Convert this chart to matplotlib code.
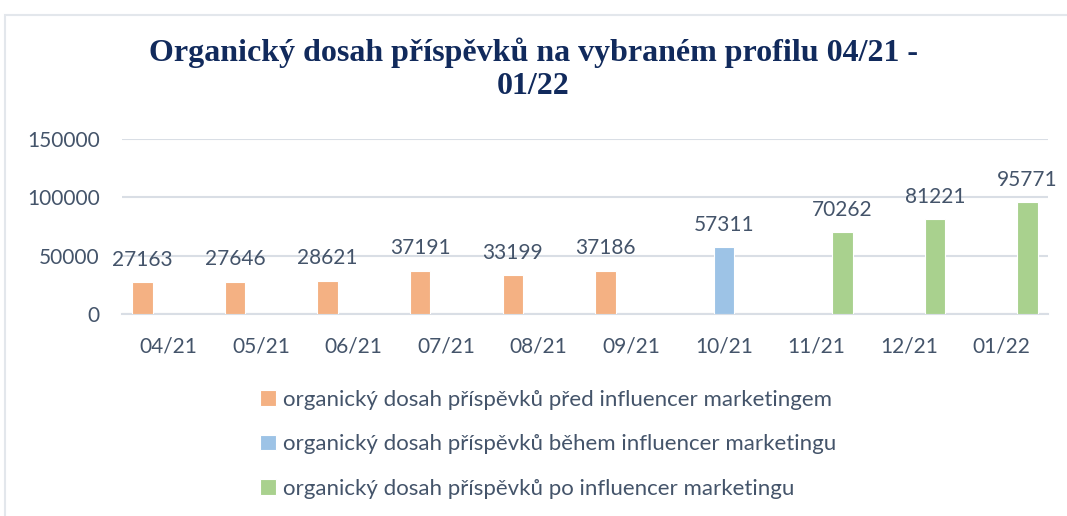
import matplotlib.pyplot as plt
from matplotlib.patches import Rectangle
import numpy as np

months = ['04/21', '05/21', '06/21', '07/21', '08/21', '09/21', '10/21', '11/21', '12/21', '01/22']
before = [27163, 27646, 28621, 37191, 33199, 37186, None, None, None, None]
during = [None, None, None, None, None, None, 57311, None, None, None]
after = [None, None, None, None, None, None, None, 70262, 81221, 95771]
labels = ['organický dosah příspěvků před influencer marketingem',
          'organický dosah příspěvků během influencer marketingu',
          'organický dosah příspěvků po influencer marketingu']
colors = ['#f4b183', '#9dc3e6', '#a9d18e']
yticks = [0, 50000, 100000, 150000]

txt = '#44546a'
grid = '#d9dee5'
plt.rcParams['font.family'] = ['Lato', 'DejaVu Sans']

fig = plt.figure(figsize=(10.67, 5.16), dpi=100)
fig.patches.append(Rectangle((5/1067, -0.1), 1.2, 1.1 - 15/516, transform=fig.transFigure,
                             fill=False, edgecolor='#e3e7ec', linewidth=1.5))

ax = fig.add_axes([122/1067, 1 - 314/516, 926/1067, 175/516])
x = np.arange(len(months))
offsets = [-0.28, 0.0, 0.28]
handles = []
for vals, off, c, lab in zip([before, during, after], offsets, colors, labels):
    xs = [xi + off for xi, v in zip(x, vals) if v is not None]
    vs = [v for v in vals if v is not None]
    b = ax.bar(xs, vs, width=0.22, color=c, edgecolor='white', linewidth=0.8, label=lab, zorder=3)
    handles.append(b)
    for xi, v in zip(xs, vs):
        ax.annotate(str(v), (xi, v), xytext=(0, 9), textcoords='offset points',
                    ha='center', va='bottom', fontsize=15, color=txt)

ax.set_xlim(-0.5, len(months) - 0.5)
ax.set_ylim(0, 150000)
ax.set_yticks(yticks)
ax.set_yticklabels([str(t) for t in yticks])
ax.set_xticks(x)
ax.set_xticklabels(months)
ax.tick_params(axis='both', length=0, labelsize=15, labelcolor=txt)
ax.tick_params(axis='x', pad=16)
ax.tick_params(axis='y', pad=16)
ax.grid(axis='y', color=grid, linewidth=1.5, zorder=0)
for s in ['top', 'right', 'left']:
    ax.spines[s].set_visible(False)
ax.spines['bottom'].set_color(grid)
ax.spines['bottom'].set_linewidth(1.5)

fig.text(0.5, 1 - 69/516, 'Organický dosah příspěvků na vybraném profilu 04/21 -\n01/22',
         ha='center', va='center', fontsize=23, fontweight='bold', color='#112a5c',
         family='Liberation Serif', linespacing=1.2)

fig.legend(handles=handles, labels=labels, loc='upper left', bbox_to_anchor=(240/1067, 1 - 370/516),
           frameon=False, fontsize=16, labelcolor=txt, handlelength=0.7, handleheight=0.7,
           handletextpad=0.35, labelspacing=1.1)

fig.savefig('out.png', dpi=100)
